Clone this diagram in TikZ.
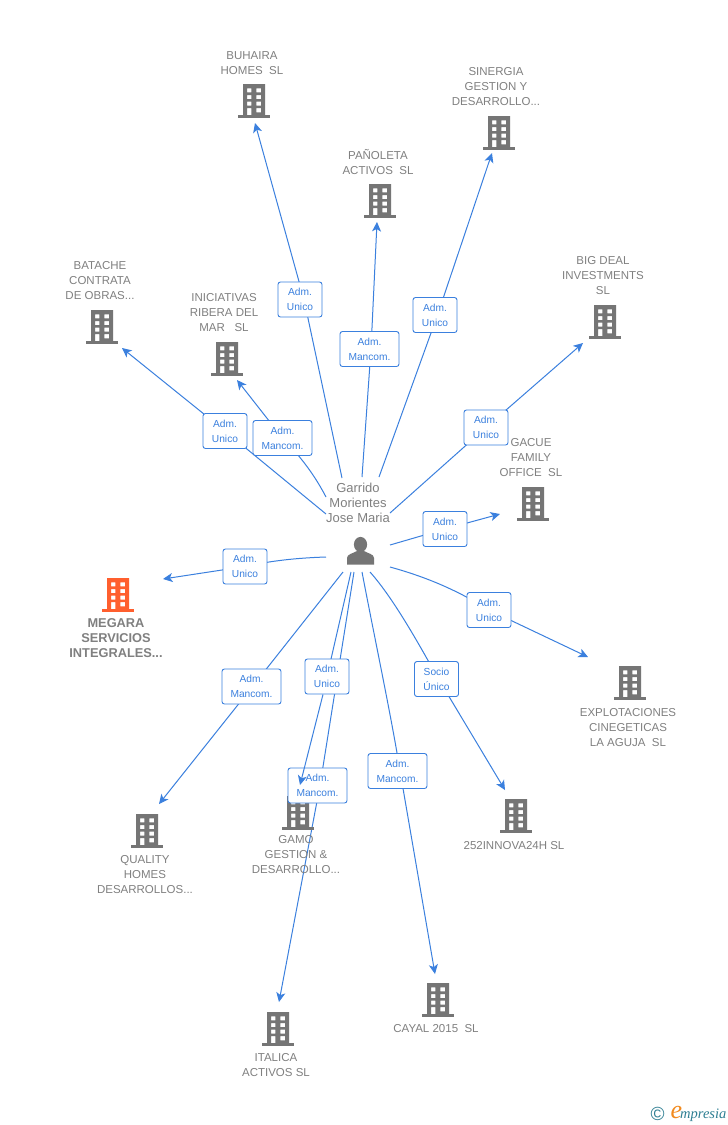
\documentclass[tikz,border=0pt]{standalone}
\usepackage{fontspec}
\setmainfont{Liberation Sans}
\newfontfamily\logofont{Liberation Serif}
\usetikzlibrary{arrows.meta,backgrounds}
\definecolor{linkblue}{HTML}{3B80DE}
\definecolor{labelgrey}{HTML}{808080}
\definecolor{bldgrey}{HTML}{757575}
\definecolor{bldorange}{HTML}{FF5F2E}
\definecolor{logoteal}{HTML}{2F7F93}
\definecolor{logoorange}{HTML}{F28A1E}
\tikzset{
  x=1pt,y=-1pt,
  rolebox/.style={draw=linkblue,line width=0.9pt,fill=white,rounded corners=2.5pt,text=linkblue,
    font=\fontsize{10.2}{15}\selectfont,align=center,minimum height=35pt,inner sep=0pt,minimum width=44pt},
  widebox/.style={rolebox,minimum width=59pt},
  complabel/.style={text=labelgrey,font=\fontsize{11.5}{15}\selectfont,align=center,inner sep=0pt},
  plainlink/.style={draw=linkblue,line width=1pt},
  link/.style={plainlink,-{Stealth[length=9.5pt,width=9pt,inset=2.5pt]}},
}
% \bld{name}{cx}{cy}{colour}
\newcommand{\bld}[4]{%
  \coordinate (#1) at (#2,#3);
  \begin{scope}[shift={(#2,#3)}]
    \fill[#4,even odd rule] (-11,-16) rectangle (11,15)
      (-7,-11.7) rectangle (-2.7,-7.7) (2.3,-11.7) rectangle (7,-7.7)
      (-7,-5) rectangle (-2.7,-0.8) (2.3,-5) rectangle (7,-0.8)
      (-7,1.7) rectangle (-2.7,5.7) (2.3,1.7) rectangle (7,5.7)
      (-7,8) rectangle (-2.7,15) (2.3,8) rectangle (7,12.3);
    \fill[#4] (-16,15) rectangle (16,17.5);
  \end{scope}}
\pgfdeclarelayer{lines}
\pgfsetlayers{background,lines,main}
\begin{document}
\begin{tikzpicture}
\useasboundingbox (0,0) rectangle (728,1125);
\begin{pgfonlayer}{background}
\fill[white] (0,0) rectangle (728,1125);
\end{pgfonlayer}

% buildings
\bld{b1}{254}{100}{bldgrey}
\bld{b2}{380}{200}{bldgrey}
\bld{b3}{499}{132}{bldgrey}
\bld{b4}{605}{321}{bldgrey}
\bld{b5}{533}{503}{bldgrey}
\bld{b6}{630}{682}{bldgrey}
\bld{b7}{516}{815}{bldgrey}
\bld{b8}{438}{999}{bldgrey}
\bld{b9}{278}{1028}{bldgrey}
\bld{b10}{298}{812}{bldgrey}
\bld{b11}{147}{830}{bldgrey}
\bld{b12}{118}{594}{bldorange}
\bld{b13}{102}{326}{bldgrey}
\bld{b14}{227}{358}{bldgrey}

% company labels
\node[complabel] (l1) at (252,63.5) {BUHAIRA\\HOMES\ \ SL};
\node[complabel] (l2) at (378,162) {PAÑOLETA\\ACTIVOS\ \ SL};
\node[complabel] (l3) at (496,86.5) {SINERGIA\\GESTION Y\\DESARROLLO...};
\node[complabel] (l4) at (603,275.5) {BIG DEAL\\INVESTMENTS\\SL};
\node[complabel] (l5) at (531,457.5) {GACUE\\FAMILY\\OFFICE\ \ SL};
\node[complabel] (l6) at (628,727.5) {EXPLOTACIONES\\CINEGETICAS\\LA AGUJA\ \ SL};
\node[complabel] (l7) at (514,845.5) {252INNOVA24H SL};
\node[complabel] (l8) at (436,1028.5) {CAYAL 2015\ \ SL};
\node[complabel] (l9) at (276,1065) {ITALICA\\ACTIVOS SL};
\node[complabel] (l10) at (296,854.5) {GAMO\\GESTION \&\\DESARROLLO...};
\node[complabel] (l11) at (145,874.5) {QUALITY\\HOMES\\DESARROLLOS...};
\node[complabel,font=\fontsize{12.8}{15}\selectfont\bfseries] (l12) at (116,638.5) {MEGARA\\SERVICIOS\\INTEGRALES...};
\node[complabel] (l13) at (100,280.5) {BATACHE\\CONTRATA\\DE OBRAS...};
\node[complabel] (l14) at (224,312.5) {INICIATIVAS\\RIBERA DEL\\MAR\ \ \ SL};

% person
\node[text=labelgrey,font=\fontsize{13}{15}\selectfont,align=center,inner sep=0pt] (p) at (358,503) {Garrido\\Morientes\\Jose Maria};
\coordinate (person) at (360.5,551);
\fill[bldgrey] (360.5,544.5) ellipse (6.6 and 7.6);
\fill[bldgrey] (347,564.5) -- (347,558) .. controls (347,554) and (353,553.5) .. (357,551)
  -- (364,551) .. controls (368,553.5) and (374,554) .. (374,558) -- (374,564.5) -- cycle;

% free ends of the connectors
\coordinate (s1) at (342,478);   \coordinate (t1) at (255,123);
\coordinate (s2) at (362,477);   \coordinate (t2) at (377,222);
\coordinate (s3) at (379,477);   \coordinate (t3) at (492,153);
\coordinate (s4) at (390,513);   \coordinate (t4) at (583,343);
\coordinate (s5) at (390,545);   \coordinate (t5) at (500,514);
\coordinate (s6) at (390,567);   \coordinate (t6) at (588,657);
\coordinate (s7) at (370,572);   \coordinate (t7) at (505,790);
\coordinate (s8) at (362,572);   \coordinate (t8) at (435,974);
\coordinate (s9) at (354,572);   \coordinate (t9) at (279,1002);
\coordinate (s10) at (351,572);  \coordinate (t10) at (300,785);
\coordinate (s11) at (343,572);  \coordinate (t11) at (159,804);
\coordinate (s12) at (326,557);  \coordinate (t12) at (163,579);
\coordinate (s13) at (326,514);  \coordinate (t13) at (122,348);
\coordinate (s14) at (326,497);  \coordinate (t14) at (237,380);

% role boxes
\node[rolebox] (r1) at (300,299.5) {Adm.\\Unico};
\node[widebox] (r2) at (369.5,349) {Adm.\\Mancom.};
\node[rolebox] (r3) at (435,315) {Adm.\\Unico};
\node[rolebox] (r4) at (486,427.5) {Adm.\\Unico};
\node[rolebox] (r5) at (445,529) {Adm.\\Unico};
\node[rolebox] (r6) at (489,610) {Adm.\\Unico};
\node[rolebox] (r7) at (436.5,679) {Socio\\Único};
\node[widebox] (r8) at (397.5,771) {Adm.\\Mancom.};
\node[widebox] (r9) at (317.5,785.5) {Adm.\\Mancom.};
\node[rolebox] (r10) at (327,676.5) {Adm.\\Unico};
\node[widebox] (r11) at (251.5,686.5) {Adm.\\Mancom.};
\node[rolebox] (r12) at (245,566.5) {Adm.\\Unico};
\node[rolebox] (r13) at (225,431) {Adm.\\Unico};
\node[widebox] (r14) at (282.5,438) {Adm.\\Mancom.};

% connectors, behind the boxes
\begin{pgfonlayer}{lines}
\draw[link] (s1) -- ([xshift=4pt]r1.center) -- (t1);
\draw[link] (s2) -- ([xshift=1.5pt]r2.center) -- (t2);
\draw[link] (s3) -- ([xshift=2.5pt]r3.center) -- (t3);
\draw[link] (s4) -- (r4.center) -- (t4);
\draw[link] (s5) -- (r5.center) -- (t5);
\draw[link] (s6) .. controls (430,578) and (460,592) .. (r6.center) -- (t6);
\draw[link] (s7) .. controls (395,600) and (422,650) .. ([xshift=2pt]r7.center) -- (t7);
\draw[link] (s8) .. controls (375,640) and (392,720) .. ([xshift=2.5pt]r8.center) -- (t8);
\draw[link] (s9) -- ([xshift=2.5pt]r9.center) -- (t9);
\draw[link] (s11) -- ([xshift=1pt]r11.center) -- (t11);
\draw[link] (s12) .. controls (295,558) and (270,561) .. (r12.center) -- (t12);
\draw[link] (s13) -- (r13.center) -- (t13);
\draw[link] (s14) .. controls (312,470) and (296,452) .. (r14.center) -- (t14);
\draw[plainlink] (s10) -- (r10.center);
\end{pgfonlayer}
% this one runs over the box it meets
\draw[link] (r10.south) ++(-4,0) -- (t10);

% logo
\node[text=logoteal,font=\fontsize{19}{19}\selectfont,inner sep=0pt] (copy) at (657.5,1114) {©};
\node[text=logoorange,font=\logofont\itshape\fontsize{26}{26}\selectfont,inner sep=0pt] (logoe) at (676.5,1112) {e};
\node[text=logoteal,font=\logofont\itshape\fontsize{14.5}{14}\selectfont,inner sep=0pt,anchor=west] (logot) at (680,1115) {mpresia};
\end{tikzpicture}
\end{document}
